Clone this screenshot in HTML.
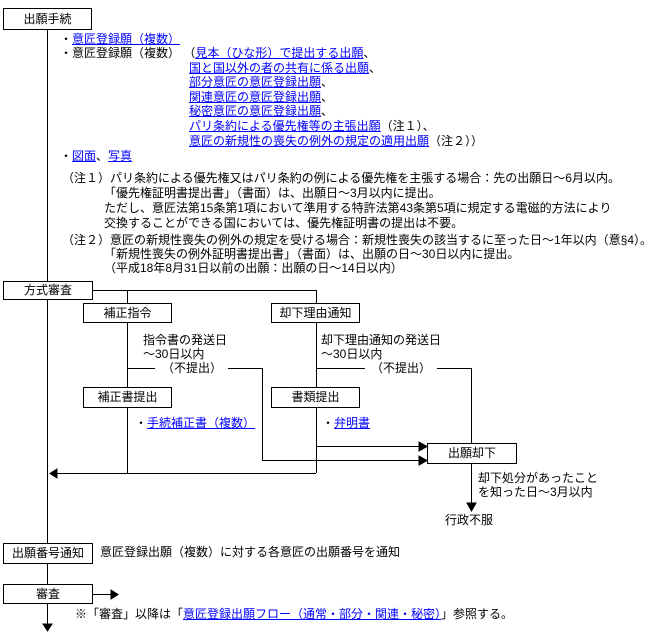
<!DOCTYPE html>
<html><head><meta charset="utf-8"><style>
body{margin:0;background:#fff;width:662px;height:638px;position:relative;overflow:hidden;font-family:"Liberation Sans","Noto Sans CJK JP",sans-serif;font-size:12px;color:#000}
.t{position:absolute;white-space:nowrap;line-height:14px}
a{color:#00f;text-decoration:underline}
.b{position:absolute;border:1px solid #000;background:#fff;text-align:center;box-sizing:border-box;white-space:nowrap}
svg{position:absolute;left:0;top:0}
</style></head><body>
<svg width="662" height="638" stroke="#000" stroke-width="1" fill="none">
<line x1="47.5" y1="30" x2="47.5" y2="282"/>
<line x1="47.5" y1="299" x2="47.5" y2="543"/>
<line x1="47.5" y1="563" x2="47.5" y2="584"/>
<line x1="47.5" y1="603" x2="47.5" y2="628"/>
<polygon points="43,624 52,624 47.5,631" fill="#000"/>
<line x1="93" y1="594.5" x2="112" y2="594.5"/>
<polygon points="111,590 118,594.5 111,599" fill="#000"/>
<polyline points="93,290.5 316.5,290.5 316.5,303"/>
<line x1="127.5" y1="290" x2="127.5" y2="303"/>
<line x1="127.5" y1="322" x2="127.5" y2="387"/>
<line x1="316.5" y1="322" x2="316.5" y2="387"/>
<line x1="127.5" y1="408" x2="127.5" y2="473"/>
<line x1="316.5" y1="408" x2="316.5" y2="473"/>
<line x1="127" y1="368.5" x2="155" y2="368.5"/>
<polyline points="228,368.5 262.5,368.5 262.5,460.5 420,460.5"/>
<line x1="316" y1="368.5" x2="365" y2="368.5"/>
<polyline points="437,368.5 471.5,368.5 471.5,443"/>
<line x1="316" y1="446.5" x2="420" y2="446.5"/>
<polygon points="419,442 427,446.5 419,451" fill="#000"/>
<polygon points="419,456 427,460.5 419,465" fill="#000"/>
<line x1="55" y1="473.5" x2="316" y2="473.5"/>
<polygon points="57,469 50,473.5 57,478" fill="#000"/>
<line x1="471.5" y1="463" x2="471.5" y2="505"/>
<polygon points="467,503 476,503 471.5,511" fill="#000"/>
</svg>
<div class="b" style="left:3px;top:8px;width:89px;height:22px;line-height:20px">出願手続</div>
<div class="t" style="left:60px;top:32px">・<a>意匠登録願（複数）</a></div>
<div class="t" style="left:60px;top:46px">・意匠登録願（複数）&nbsp;（<a>見本（ひな形）で提出する出願</a>、</div>
<div class="t" style="left:189px;top:61px"><a>国と国以外の者の共有に係る出願</a>、</div>
<div class="t" style="left:189px;top:75px"><a>部分意匠の意匠登録出願</a>、</div>
<div class="t" style="left:189px;top:90px"><a>関連意匠の意匠登録出願</a>、</div>
<div class="t" style="left:189px;top:104px"><a>秘密意匠の意匠登録出願</a>、</div>
<div class="t" style="left:189px;top:119px"><a>パリ条約による優先権等の主張出願</a>（注１）、</div>
<div class="t" style="left:189px;top:134px"><a>意匠の新規性の喪失の例外の規定の適用出願</a>（注２））</div>
<div class="t" style="left:60px;top:149px">・<a>図面</a>、<a>写真</a></div>
<div class="t" style="left:62px;top:171px">（注１）パリ条約による優先権又はパリ条約の例による優先権を主張する場合：先の出願日～6月以内。</div>
<div class="t" style="left:104px;top:186px">「優先権証明書提出書」（書面）は、出願日～3月以内に提出。</div>
<div class="t" style="left:104px;top:201px">ただし、意匠法第15条第1項において準用する特許法第43条第5項に規定する電磁的方法により</div>
<div class="t" style="left:104px;top:216px">交換することができる国においては、優先権証明書の提出は不要。</div>
<div class="t" style="left:62px;top:233px">（注２）意匠の新規性喪失の例外の規定を受ける場合：新規性喪失の該当するに至った日～1年以内（意§4）。</div>
<div class="t" style="left:104px;top:247px">「新規性喪失の例外証明書提出書」（書面）は、出願の日～30日以内に提出。</div>
<div class="t" style="left:104px;top:261px">（平成18年8月31日以前の出願：出願の日～14日以内）</div>
<div class="b" style="left:3px;top:281px;width:90px;height:19px;line-height:17px">方式審査</div>
<div class="b" style="left:83px;top:303px;width:89px;height:20px;line-height:18px">補正指令</div>
<div class="b" style="left:271px;top:303px;width:89px;height:20px;line-height:18px">却下理由通知</div>
<div class="t" style="left:143px;top:333px">指令書の発送日</div>
<div class="t" style="left:143px;top:347px">～30日以内</div>
<div class="t" style="left:321px;top:333px">却下理由通知の発送日</div>
<div class="t" style="left:321px;top:347px">～30日以内</div>
<div class="t" style="left:162px;top:361px">（不提出）</div>
<div class="t" style="left:371px;top:361px">（不提出）</div>
<div class="b" style="left:83px;top:387px;width:89px;height:21px;line-height:19px">補正書提出</div>
<div class="b" style="left:271px;top:387px;width:89px;height:21px;line-height:19px">書類提出</div>
<div class="t" style="left:135px;top:416px">・<a>手続補正書（複数）</a></div>
<div class="t" style="left:322px;top:416px">・<a>弁明書</a></div>
<div class="b" style="left:427px;top:443px;width:90px;height:21px;line-height:19px">出願却下</div>
<div class="t" style="left:478px;top:471px">却下処分があったこと</div>
<div class="t" style="left:478px;top:485px">を知った日～3月以内</div>
<div class="t" style="left:445px;top:513px">行政不服</div>
<div class="b" style="left:3px;top:543px;width:90px;height:21px;line-height:19px">出願番号通知</div>
<div class="t" style="left:100px;top:545px">意匠登録出願（複数）に対する各意匠の出願番号を通知</div>
<div class="b" style="left:3px;top:584px;width:90px;height:20px;line-height:18px">審査</div>
<div class="t" style="left:75px;top:607px">※「審査」以降は「<a>意匠登録出願フロー（通常・部分・関連・秘密）</a>」参照する。</div>
</body></html>
